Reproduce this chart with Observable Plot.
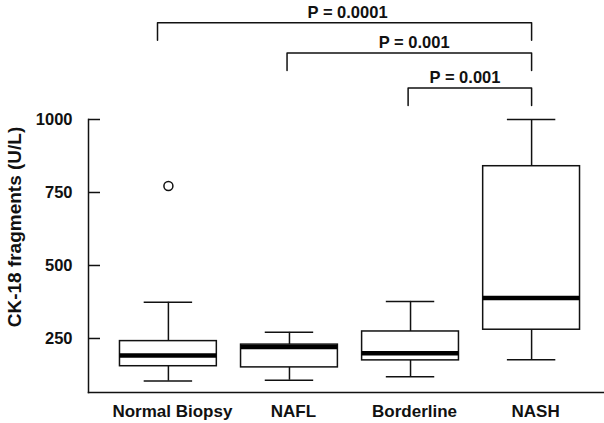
<!DOCTYPE html>
<html>
<head>
<meta charset="utf-8">
<script src="https://cdn.jsdelivr.net/npm/d3@7"></script>
<script src="https://cdn.jsdelivr.net/npm/@observablehq/plot@0.6"></script>
<style>
  html, body { margin: 0; padding: 0; background: white; }
  svg { display: block; }
</style>
</head>
<body>
<script>
// ---- data ----
const categories  = ["Normal Biopsy", "NAFL", "Borderline", "NASH"];
const whiskerLow  = [104, 107, 119, 177];
const q1          = [155, 151, 175, 280];
const median      = [192, 221, 199, 389];
const q3          = [241, 229, 274, 840];
const whiskerHigh = [374, 271, 377, 1000];

const outlierGroup = ["Normal Biopsy"];
const outlierValue = [772];

const yTicks = [250, 500, 750, 1000];
const yLabel = "CK-18 fragments (U/L)";

// significance brackets (positions in category units / data units)
const bracketFrom  = [0.91, 1.98, 2.98];
const bracketTo    = [4, 4, 4];
const bracketLevel = [1331, 1228, 1108];
const bracketText  = ["P = 0.0001", "P = 0.001", "P = 0.001"];
const bracketTextX = [2.48, 3.03, 3.45];

// ---- derived tables ----
const pos = c => categories.indexOf(c) + 1;
const rows = categories.map((c, i) => ({
  cat: c, pos: i + 1,
  lo: whiskerLow[i], q1: q1[i], med: median[i], q3: q3[i], hi: whiskerHigh[i]
}));
const outliers = outlierGroup.map((g, i) => ({pos: pos(g), v: outlierValue[i]}));

const drop = 60;      // bracket leg length, data units
const boxHalf = 0.4;  // half box width, category units
const capHalf = 0.2;  // half whisker cap width
const bracketPts = [];
bracketLevel.forEach((lv, i) => {
  bracketPts.push({k: i, x: bracketFrom[i], y: lv - drop});
  bracketPts.push({k: i, x: bracketFrom[i], y: lv});
  bracketPts.push({k: i, x: bracketTo[i], y: lv});
  bracketPts.push({k: i, x: bracketTo[i], y: lv - drop});
});
const bracketLabels = bracketText.map((t, i) => ({t, x: bracketTextX[i], y: bracketLevel[i] + 36}));

const ink = "#111";

const chart = Plot.plot({
  width: 604,
  height: 423,
  marginLeft: 88,
  marginRight: 0,
  marginTop: 119,
  marginBottom: 31,
  style: {fontFamily: "'Liberation Sans', Arial, sans-serif", fontWeight: "bold", color: ink, background: "white", overflow: "visible"},
  x: {domain: [0.34, 4.66], range: [88, 611]},
  y: {domain: [65, 1000]},
  marks: [
    Plot.frame({anchor: "bottom", stroke: ink, strokeWidth: 1.5}),
    Plot.frame({anchor: "left", stroke: ink, strokeWidth: 1.5}),
    Plot.axisY({ticks: yTicks, tickFormat: d => String(d), tickSize: -12, tickPadding: 28, fontSize: 16.5, label: null, strokeWidth: 1.5}),
    Plot.axisX({ticks: rows.map(d => d.pos), tickFormat: i => categories[i - 1], tickSize: 0, tickPadding: 12.6, fontSize: 17, label: null, dx: 4}),
    // y label
    Plot.text([yLabel], {frameAnchor: "left", textAnchor: "middle", rotate: -90, dx: -73.5, dy: -29, fontSize: 19, fill: ink}),
    // whiskers
    Plot.ruleX(rows, {x: "pos", y1: "q3", y2: "hi", stroke: ink, strokeWidth: 1.5}),
    Plot.ruleX(rows, {x: "pos", y1: "lo", y2: "q1", stroke: ink, strokeWidth: 1.5}),
    Plot.ruleY(rows, {y: "hi", x1: d => d.pos - capHalf, x2: d => d.pos + capHalf, stroke: ink, strokeWidth: 1.5}),
    Plot.ruleY(rows, {y: "lo", x1: d => d.pos - capHalf, x2: d => d.pos + capHalf, stroke: ink, strokeWidth: 1.5}),
    // boxes
    Plot.rect(rows, {x1: d => d.pos - boxHalf, x2: d => d.pos + boxHalf, y1: "q1", y2: "q3", fill: "white", stroke: ink, strokeWidth: 1.5}),
    Plot.ruleY(rows, {y: "med", x1: d => d.pos - boxHalf, x2: d => d.pos + boxHalf, stroke: "black", strokeWidth: 4.5}),
    // outliers
    Plot.dot(outliers, {x: "pos", y: "v", r: 4.5, stroke: ink, strokeWidth: 1.5, fill: "white"}),
    // brackets
    Plot.line(bracketPts, {x: "x", y: "y", z: "k", stroke: ink, strokeWidth: 1.5, curve: "linear"}),
    Plot.text(bracketLabels, {x: "x", y: "y", text: "t", fontSize: 16.5, fill: ink})
  ]
});
document.body.appendChild(chart);
</script>
</body>
</html>
